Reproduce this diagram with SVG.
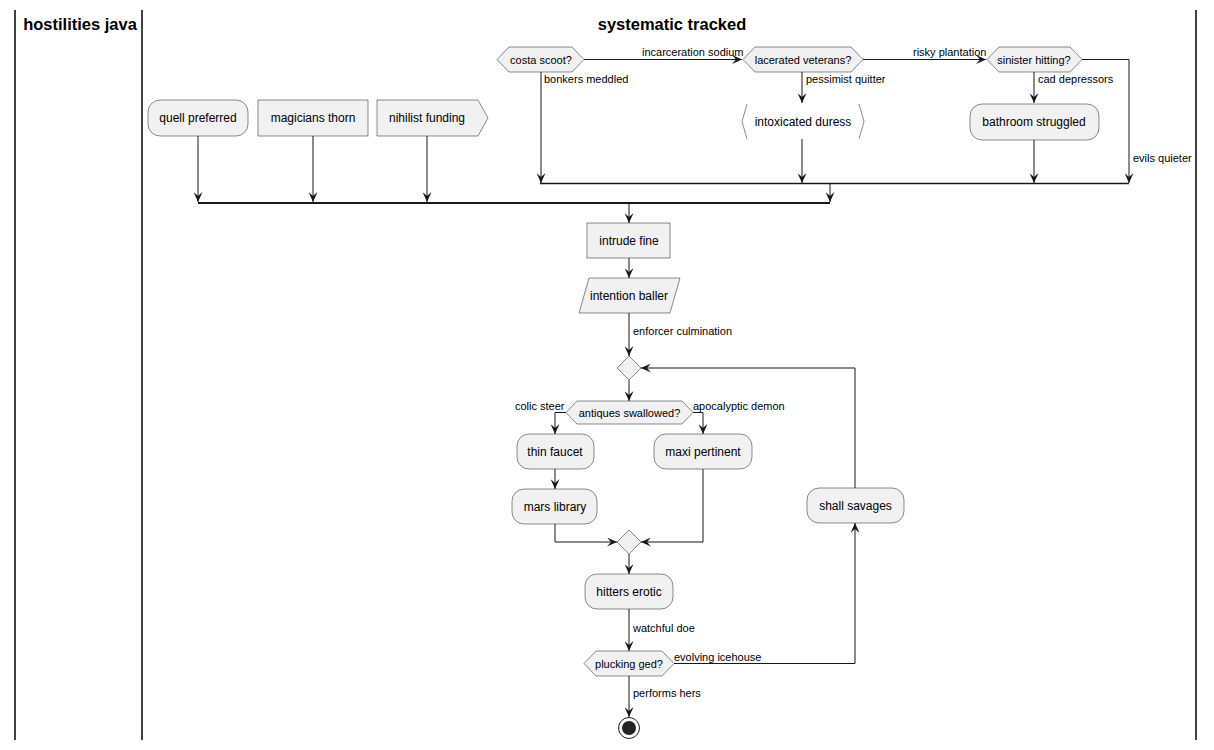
<svg xmlns="http://www.w3.org/2000/svg" width="1214" height="750" viewBox="0 0 1214 750">
<defs>
<marker id="ah" viewBox="0 0 10 9" refX="10" refY="4.5" markerWidth="10" markerHeight="9" markerUnits="userSpaceOnUse" orient="auto">
<path d="M0,0 L10,4.5 L0,9 L4,4.5 Z" fill="#181818"/>
</marker>
<style>
.n{fill:#F1F1F1;stroke:#181818;stroke-width:0.5}
.t{font-family:"Liberation Sans",Arial,sans-serif;font-size:12px;fill:#000;text-anchor:middle}
.d{font-family:"Liberation Sans",Arial,sans-serif;font-size:11px;fill:#000;text-anchor:middle}
.l{font-family:"Liberation Sans",Arial,sans-serif;font-size:11px;fill:#000}
.c{fill:none;stroke:#181818;stroke-width:1;marker-end:url(#ah)}
.p{fill:none;stroke:#181818;stroke-width:0.5}
.lane{stroke:#000;stroke-width:1.5}
.h{font-family:"Liberation Sans",Arial,sans-serif;font-size:16.5px;font-weight:bold;fill:#000;text-anchor:middle}
</style>
</defs>
<rect width="1214" height="750" fill="#fff"/>
<g id="lanes">
<line class="lane" x1="15" y1="10" x2="15" y2="740"/>
<line class="lane" x1="142" y1="10" x2="142" y2="740"/>
<line class="lane" x1="1196" y1="10" x2="1196" y2="740"/>
<text class="h" x="80" y="30">hostilities java</text>
<text class="h" x="672" y="30">systematic tracked</text>
</g>
<g id="connectors">
<path class="c" d="M198,136 L198,202"/>
<path class="c" d="M313,136 L313,202"/>
<path class="c" d="M427,136 L427,202"/>
<line x1="198" y1="203" x2="830" y2="203" stroke="#181818" stroke-width="2"/>
<path class="c" d="M584,59.5 L742,59.5"/>
<text class="l" x="642" y="56">incarceration sodium</text>
<path class="c" d="M541,72 L541,183"/>
<text class="l" x="544" y="83">bonkers meddled</text>
<path class="c" d="M802,72 L802,103"/>
<text class="l" x="806" y="83">pessimist quitter</text>
<path class="c" d="M802,139 L802,183"/>
<path class="c" d="M863,59.5 L986,59.5"/>
<text class="l" x="913" y="56">risky plantation</text>
<path class="c" d="M1034,72 L1034,103"/>
<text class="l" x="1038" y="83">cad depressors</text>
<path class="c" d="M1034,140 L1034,183"/>
<path class="c" d="M1082,59.5 L1129,59.5 L1129,183"/>
<text class="l" x="1133" y="162">evils quieter</text>
<line x1="540" y1="183.5" x2="1129" y2="183.5" stroke="#181818" stroke-width="1.5"/>
<path class="c" d="M830,184 L830,202"/>
<path class="c" d="M629,204 L629,223"/>
<path class="c" d="M629,258 L629,278"/>
<path class="c" d="M629,313 L629,356"/>
<text class="l" x="633" y="335">enforcer culmination</text>
<path class="c" d="M855,488 L855,368 L641,368"/>
<path class="c" d="M629,380 L629,401"/>
<path class="c" d="M566,412.5 L555,412.5 L555,434"/>
<text class="l" x="515" y="410">colic steer</text>
<path class="c" d="M693,412.5 L703,412.5 L703,434"/>
<text class="l" x="693" y="410">apocalyptic demon</text>
<path class="c" d="M555,469 L555,489"/>
<path class="c" d="M555,524 L555,542 L617,542"/>
<path class="c" d="M703,469 L703,542 L641,542"/>
<path class="c" d="M629,554 L629,574"/>
<path class="c" d="M629,609 L629,651"/>
<text class="l" x="633" y="632">watchful doe</text>
<path class="c" d="M674,663.5 L855,663.5 L855,523"/>
<text class="l" x="674" y="661">evolving icehouse</text>
<path class="c" d="M629,676 L629,717"/>
<text class="l" x="633" y="697">performs hers</text>
</g>
<g id="quell-preferred"><rect class="n" x="148" y="100" width="100" height="36" rx="12"/><text class="t" x="198" y="122">quell preferred</text></g>
<g id="magicians-thorn"><rect class="n" x="258" y="100" width="110" height="36"/><text class="t" x="313" y="122">magicians thorn</text></g>
<g id="nihilist-funding"><polygon class="n" points="377,100 478,100 488,118 478,136 377,136"/><text class="t" x="427" y="122">nihilist funding</text></g>
<g id="costa-scoot"><polygon class="n" points="497,59.5 509,47 572,47 584,59.5 572,72 509,72"/><text class="d" x="541" y="63.5">costa scoot?</text></g>
<g id="lacerated-veterans"><polygon class="n" points="743,59.5 755,47 851,47 863,59.5 851,72 755,72"/><text class="d" x="803" y="63.5">lacerated veterans?</text></g>
<g id="intoxicated-duress"><polyline class="p" points="747,104 742,121.5 747,139"/><polyline class="p" points="859,104 864,121.5 859,139"/><text class="t" x="803" y="126">intoxicated duress</text></g>
<g id="sinister-hitting"><polygon class="n" points="987,59.5 999,47 1070,47 1082,59.5 1070,72 999,72"/><text class="d" x="1034" y="63.5">sinister hitting?</text></g>
<g id="bathroom-struggled"><rect class="n" x="970" y="104" width="129" height="36" rx="12"/><text class="t" x="1034" y="126">bathroom struggled</text></g>
<g id="intrude-fine"><rect class="n" x="587" y="223" width="83" height="35"/><text class="t" x="629" y="245">intrude fine</text></g>
<g id="intention-baller"><polygon class="n" points="589,278 680,278 670,313 579,313"/><text class="t" x="629" y="300">intention baller</text></g>
<g id="merge1"><polygon class="n" points="629,356 641,368 629,380 617,368"/></g>
<g id="antiques-swallowed"><polygon class="n" points="566,412.5 577,401 682,401 693,412.5 682,424 577,424"/><text class="d" x="629.5" y="416.5">antiques swallowed?</text></g>
<g id="thin-faucet"><rect class="n" x="517" y="434" width="77" height="35" rx="12"/><text class="t" x="555" y="456">thin faucet</text></g>
<g id="mars-library"><rect class="n" x="512" y="489" width="85" height="35" rx="12"/><text class="t" x="555" y="511">mars library</text></g>
<g id="maxi-pertinent"><rect class="n" x="654" y="434" width="98" height="35" rx="12"/><text class="t" x="703" y="456">maxi pertinent</text></g>
<g id="merge2"><polygon class="n" points="629,530 641,542 629,554 617,542"/></g>
<g id="shall-savages"><rect class="n" x="807" y="488" width="97" height="35" rx="12"/><text class="t" x="855.5" y="510">shall savages</text></g>
<g id="hitters-erotic"><rect class="n" x="585" y="574" width="88" height="35" rx="12"/><text class="t" x="629" y="596">hitters erotic</text></g>
<g id="plucking-ged"><polygon class="n" points="584,663.5 596,651 662,651 674,663.5 662,676 596,676"/><text class="d" x="629" y="667.5">plucking ged?</text></g>
<g id="end"><circle cx="629" cy="728" r="10.5" fill="none" stroke="#222" stroke-width="1"/><circle cx="629" cy="728" r="7" fill="#222"/></g>
</svg>
